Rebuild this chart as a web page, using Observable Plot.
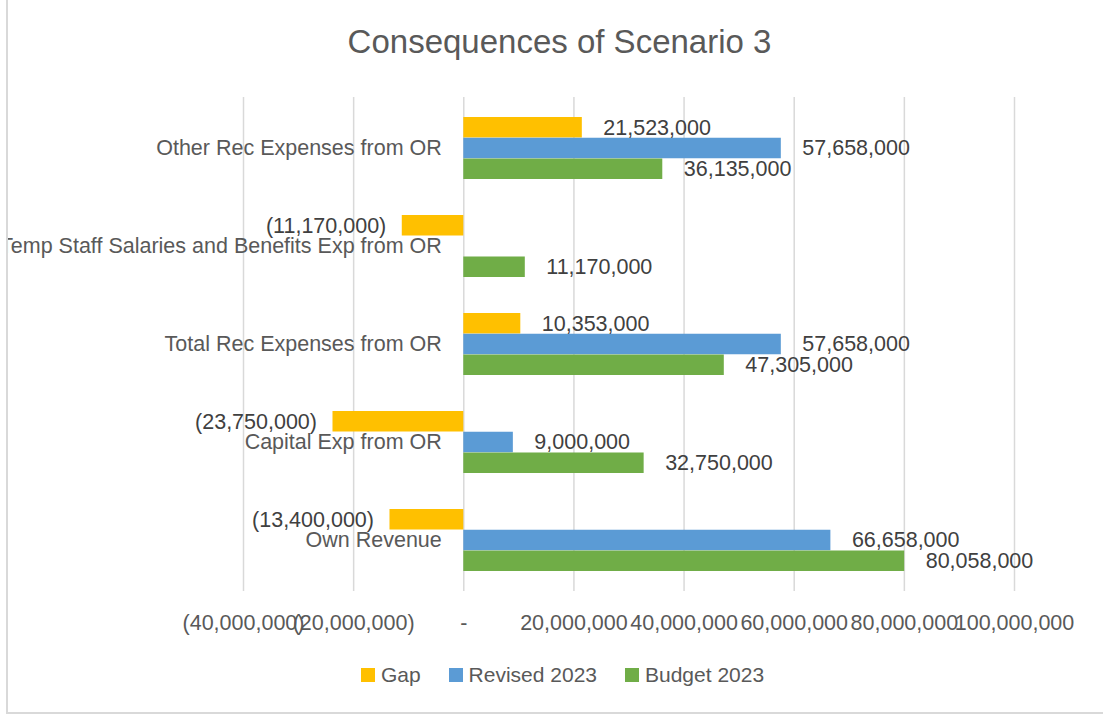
<!DOCTYPE html>
<html>
<head>
<meta charset="utf-8">
<script src="https://cdn.jsdelivr.net/npm/d3@7"></script>
<script src="https://cdn.jsdelivr.net/npm/@observablehq/plot@0.6"></script>
<style>
  html, body { margin: 0; padding: 0; background: #fff; }
  body { width: 1103px; height: 715px; overflow: hidden; position: relative; }
  #chart {
    position: absolute; left: 6px; top: 0; width: 1103px;
    border-left: 2px solid #d9d9d9; border-bottom: 2px solid #d9d9d9;
    overflow: hidden; font-family: "Liberation Sans", Arial, sans-serif;
  }
  #title { height: 80px; line-height: 83px; text-align: center; font-size: 33px; color: #595959; }
  #legend { height: 62px; display: flex; justify-content: center; align-items: flex-start; font-size: 21px; color: #595959; padding-left: 6px; }
  #legend .item { display: flex; align-items: center; height: 50px; margin: 0 14px; }
  #legend .sw { width: 14px; height: 14px; margin-right: 6px; }
</style>
</head>
<body>
<div id="chart">
  <div id="title">Consequences of Scenario 3</div>
  <div id="plot"></div>
  <div id="legend"></div>
</div>
<script>
const categories = [
  "Other Rec Expenses from OR",
  "Temp Staff Salaries and Benefits Exp from OR",
  "Total Rec Expenses from OR",
  "Capital Exp from OR",
  "Own Revenue"
];
const gap     = [21523000, -11170000, 10353000, -23750000, -13400000];
const revised = [57658000, null,      57658000,   9000000,  66658000];
const budget  = [36135000, 11170000,  47305000,  32750000,  80058000];
const seriesNames = ["Gap", "Revised 2023", "Budget 2023"];
const seriesColors = ["#FFC000", "#5B9BD5", "#70AD47"];
const xTicks = [-40000000, -20000000, 0, 20000000, 40000000, 60000000, 80000000, 100000000];

const rows = categories.map((c, i) => ({category: c, gap: gap[i], revised: revised[i], budget: budget[i]}));

const fmtN = d3.format(",");
const fmt = d => d === 0 ? "-" : d < 0 ? `(${fmtN(-d)})` : fmtN(d);

const W = 1103, H = 570, mT = 17, mB = 59, mL = 235, mR = 97;
const pInner = 0.37, pOuter = pInner / 2;
const step = (H - mT - mB) / categories.length;
const bw = step * (1 - pInner);
const third = bw / 3;
const fs = 21.5;
const labelColor = "#404040";

const keys = ["gap", "revised", "budget"];
const marks = [
  Plot.gridX(xTicks, {stroke: "#d9d9d9", strokeOpacity: 1, strokeWidth: 1.5}),
  Plot.axisX({ticks: xTicks, tickSize: 0, tickPadding: 23, tickFormat: fmt, fontSize: fs, fill: "#595959"}),
];
keys.forEach((k, i) => {
  marks.push(Plot.barX(rows, {
    y: "category", x: k, fill: seriesColors[i],
    insetTop: i * third, insetBottom: (2 - i) * third
  }));
});
keys.forEach((k, i) => {
  const dy = (i - 1) * third;
  marks.push(Plot.text(rows, {
    filter: d => d[k] != null && d[k] > 0,
    y: "category", x: k, text: d => fmt(d[k]),
    dx: 21, dy, textAnchor: "start", fill: labelColor, fontSize: fs
  }));
  marks.push(Plot.text(rows, {
    filter: d => d[k] != null && d[k] < 0,
    y: "category", x: k, text: d => fmt(d[k]),
    dx: -16, dy, textAnchor: "end", fill: labelColor, fontSize: fs
  }));
});
marks.push(Plot.text(categories, {
  y: d => d, x: () => 0, text: d => d, dx: -22, textAnchor: "end",
  fill: "#595959", fontSize: fs
}));

const chart = Plot.plot({
  width: W, height: H,
  marginTop: mT, marginBottom: mB, marginLeft: mL, marginRight: mR,
  style: {fontFamily: "Liberation Sans, Arial, sans-serif", fontSize: fs + "px", background: "transparent", overflow: "visible", color: "#595959"},
  x: {domain: [-40000000, 100000000]},
  y: {domain: categories, paddingInner: pInner, paddingOuter: pOuter, axis: null},
  marks
});
document.getElementById("plot").appendChild(chart);

const legend = document.getElementById("legend");
seriesNames.forEach((n, i) => {
  const item = document.createElement("div");
  item.className = "item";
  const sw = document.createElement("div");
  sw.className = "sw";
  sw.style.background = seriesColors[i];
  const t = document.createElement("span");
  t.textContent = n;
  item.appendChild(sw); item.appendChild(t);
  legend.appendChild(item);
});
</script>
</body>
</html>
